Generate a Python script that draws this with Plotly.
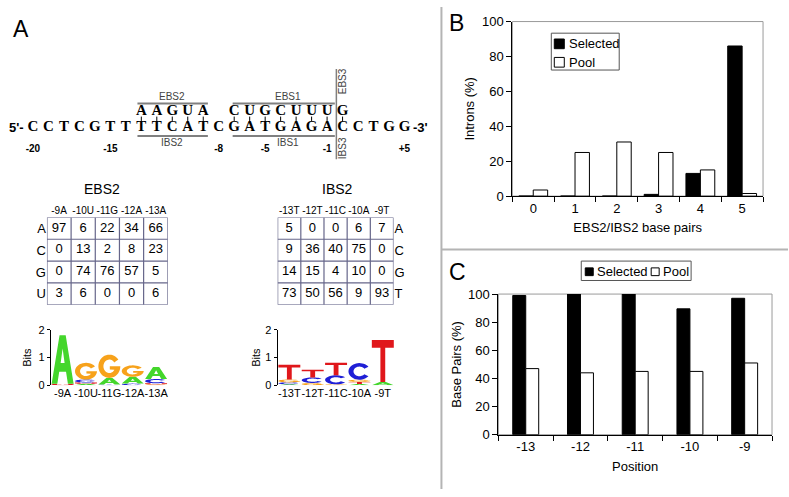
import math
import plotly.graph_objects as go

W, H = 789, 497
FONT = "Liberation Sans, Arial, sans-serif"

# ---------------- data ----------------
b_categories = ["0", "1", "2", "3", "4", "5"]
b_selected = [0, 0, 0, 1, 13, 86]
b_pool = [3.5, 25, 31, 25, 15, 1.5]

c_categories = ["-13", "-12", "-11", "-10", "-9"]
c_selected = [99, 100, 100, 89.5, 97]
c_pool = [47, 44, 45, 45, 51]

pct_ticks = [0, 20, 40, 60, 80, 100]

seq_lower = list("CCTCGTTTTCATCGATGAGACCTGG")      # positions -20 .. -1, +1 .. +5
ebs2_letters = list("AAGUA")                         # pairs with -13 .. -9
ebs1_letters = list("CUGCUUU")                       # pairs with -7 .. -1
ebs3_letters = ["G"]                                 # pairs with +1
ebs2_index = [7, 8, 9, 10, 11]
ebs1_index = [13, 14, 15, 16, 17, 18, 19]
ebs3_index = [20]
seq_number_labels = ["-20", "-15", "-8", "-5", "-1", "+5"]
seq_number_index = [0, 5, 12, 15, 19, 24]

ebs2_cols = ["-9A", "-10U", "-11G", "-12A", "-13A"]
ebs2_rows = ["A", "C", "G", "U"]
ebs2_A = [97, 6, 22, 34, 66]
ebs2_C = [0, 13, 2, 8, 23]
ebs2_G = [0, 74, 76, 57, 5]
ebs2_U = [3, 6, 0, 0, 6]

ibs2_cols = ["-13T", "-12T", "-11C", "-10A", "-9T"]
ibs2_rows = ["A", "C", "G", "T"]
ibs2_A = [5, 0, 0, 6, 7]
ibs2_C = [9, 36, 40, 75, 0]
ibs2_G = [14, 15, 4, 10, 0]
ibs2_T = [73, 50, 56, 9, 93]

# ---------------- helpers ----------------
def xd(a, b):
    return [a / W, b / W]

def yd(top, bottom):
    return [1 - bottom / H, 1 - top / H]

def px_x(a):
    return a / W

def px_y(a):
    return 1 - a / H

fig = go.Figure()
shapes = []
annotations = []

def ann(text, x, y, size, xanchor="center", color="black", bold=False, angle=0,
        family=FONT, xref="paper", yref="paper"):
    if xref == "paper":
        x = px_x(x)
    if yref == "paper":
        y = px_y(y)
    annotations.append(dict(
        text=("<b>%s</b>" % text) if bold else text, x=x, y=y, xref=xref, yref=yref,
        showarrow=False, xanchor=xanchor, yanchor="middle", textangle=angle,
        font=dict(family=family, size=size, color=color)))

def line(x0, y0, x1, y1, xref, yref, color="black", width=1, layer="above"):
    shapes.append(dict(type="line", x0=x0, y0=y0, x1=x1, y1=y1, xref=xref, yref=yref,
                       line=dict(color=color, width=width), layer=layer))

def rect(x0, y0, x1, y1, xref="paper", yref="paper", fill="rgba(0,0,0,0)",
         color="black", width=1, layer="above"):
    if xref == "paper":
        x0, x1 = px_x(x0), px_x(x1)
    if yref == "paper":
        y0, y1 = px_y(y0), px_y(y1)
    shapes.append(dict(type="rect", x0=x0, y0=y0, x1=x1, y1=y1, xref=xref, yref=yref,
                       fillcolor=fill, line=dict(color=color, width=width), layer=layer))

# ---------------- panel B ----------------
fig.add_trace(go.Bar(x=b_categories, y=b_selected, xaxis="x", yaxis="y", name="Selected",
                     width=0.345, offset=-0.345, showlegend=False,
                     marker=dict(color="black", line=dict(color="black", width=1))))
fig.add_trace(go.Bar(x=b_categories, y=b_pool, xaxis="x", yaxis="y", name="Pool",
                     width=0.345, offset=0, showlegend=False,
                     marker=dict(color="white", line=dict(color="black", width=1))))

# ---------------- panel C ----------------
fig.add_trace(go.Bar(x=c_categories, y=c_selected, xaxis="x2", yaxis="y2", name="Selected",
                     width=0.237, offset=-0.237, showlegend=False,
                     marker=dict(color="black", line=dict(color="black", width=1))))
fig.add_trace(go.Bar(x=c_categories, y=c_pool, xaxis="x2", yaxis="y2", name="Pool",
                     width=0.237, offset=0, showlegend=False,
                     marker=dict(color="white", line=dict(color="black", width=1))))

for ax in ["x", "x2"]:
    rect(0, 0, 1, 1, xref=ax + " domain", yref=("y" if ax == "x" else "y2") + " domain",
         color="#9a9a9a", width=1, layer="below")

# manual legends
rect(552, 27, 620, 65, color="#555555")
rect(555, 33, 565, 43, fill="black")
rect(555, 52, 565, 62, fill="white")
ann("Selected", 568, 38, 13, xanchor="left")
ann("Pool", 568, 57, 13, xanchor="left")

rect(582, 262, 692, 282, color="#555555")
rect(586, 269, 594, 277, fill="black")
ann("Selected", 596, 273, 13, xanchor="left")
rect(652, 269, 660, 277, fill="white")
ann("Pool", 662, 273, 13, xanchor="left")

# ---------------- sequence logos ----------------
LOGO_COLORS = {"A": "#44d62c", "C": "#1f1fd6", "G": "#f7a21b", "T": "#e0171b", "U": "#e0171b"}

def arc(cx, cy, rx, ry, a0, a1, n=36):
    pts = []
    for k in range(n + 1):
        t = math.radians(a0 + (a1 - a0) * k / n)
        pts.append((cx + rx * math.cos(t), cy + ry * math.sin(t)))
    return pts

def glyph(letter):
    if letter == "A":
        return [[(0, 0), (0.36, 1), (0.64, 1), (1, 0), (0.74, 0), (0.655, 0.25),
                 (0.345, 0.25), (0.26, 0)],
                [(0.41, 0.43), (0.5, 0.73), (0.59, 0.43)]]
    if letter == "T":
        return [[(0, 1), (1, 1), (1, 0.82), (0.61, 0.82), (0.61, 0), (0.39, 0),
                 (0.39, 0.82), (0, 0.82)]]
    if letter == "C":
        return [arc(0.5, 0.5, 0.5, 0.5, 35, 325) + arc(0.5, 0.5, 0.27, 0.29, 325, 35)]
    if letter == "G":
        return [arc(0.5, 0.5, 0.5, 0.5, 35, 360) + [(0.52, 0.5), (0.52, 0.36)]
                + arc(0.5, 0.5, 0.27, 0.29, 328, 35)]
    # U
    return [[(0, 1), (0, 0.45)] + arc(0.5, 0.45, 0.5, 0.45, 180, 360)
            + [(1, 1), (0.76, 1)] + arc(0.5, 0.45, 0.26, 0.22, 360, 180) + [(0.24, 1)]]

def logo_heights(table, letters):
    # information content per column (as a sequence logo draws it)
    cols = []
    for j in range(len(table[0])):
        counts = [row[j] for row in table]
        tot = float(sum(counts))
        fr = [c / tot for c in counts]
        ent = -sum(f * math.log2(f) for f in fr if f > 0)
        ic = 2 - ent
        cols.append(sorted(((f * ic, letters[i]) for i, f in enumerate(fr)),
                           key=lambda p: p[0]))
    return cols

def draw_logo(table, letters, xr, yr):
    for j, col in enumerate(logo_heights(table, letters)):
        base = 0.0
        for h, let in col:
            if h > 0.01:
                parts = []
                for sub in glyph(let):
                    pts = ["%.4f,%.4f" % (j - 0.47 + 0.94 * u, base + h * v) for u, v in sub]
                    parts.append("M" + " L".join(pts) + " Z")
                shapes.append(dict(type="path", path=" ".join(parts), xref=xr, yref=yr,
                                   fillcolor=LOGO_COLORS[let], fillrule="evenodd",
                                   line=dict(width=0), layer="above"))
            base += h

draw_logo([ebs2_A, ebs2_C, ebs2_G, ebs2_U], ebs2_rows, "x3", "y3")
draw_logo([ibs2_A, ibs2_C, ibs2_G, ibs2_T], ibs2_rows, "x4", "y4")
# invisible anchors so the logo axes render
for xa, ya in [("x3", "y3"), ("x4", "y4")]:
    fig.add_trace(go.Scatter(x=[0, 4], y=[0, 0], xaxis=xa, yaxis=ya, mode="markers",
                             marker=dict(opacity=0), hoverinfo="skip", showlegend=False))

# ---------------- tables ----------------
TABLE_LINE = "#66668a"

def draw_table(table, xr, yr):
    xs, ys, ts = [], [], []
    for i, row in enumerate(table):
        for j, v in enumerate(row):
            xs.append(j)
            ys.append(i)
            ts.append(str(v))
    fig.add_trace(go.Scatter(x=xs, y=ys, text=ts, mode="text", xaxis=xr, yaxis=yr,
                             textfont=dict(family=FONT, size=13, color="black"),
                             hoverinfo="skip", showlegend=False, cliponaxis=False))
    rect(-0.5, -0.5, 4.5, 3.5, xref=xr, yref=yr, color=TABLE_LINE, width=1.2)
    for k in range(1, 5):
        line(k - 0.5, -0.5, k - 0.5, 3.5, xr, yr, color=TABLE_LINE, width=1.2)
    for k in range(1, 4):
        line(-0.5, k - 0.5, 4.5, k - 0.5, xr, yr, color=TABLE_LINE, width=1.2)

draw_table([ebs2_A, ebs2_C, ebs2_G, ebs2_U], "x5", "y5")
draw_table([ibs2_A, ibs2_C, ibs2_G, ibs2_T], "x6", "y6")
ann("EBS2", 102, 188, 14)
ann("IBS2", 338, 188, 14)

# ---------------- sequence diagram ----------------
SEQ_FONT = "Liberation Serif, DejaVu Serif, serif"
fig.add_trace(go.Scatter(x=list(range(len(seq_lower))), y=[124] * len(seq_lower),
                         text=["<b>%s</b>" % s for s in seq_lower], mode="text",
                         xaxis="x7", yaxis="y7",
                         textfont=dict(family=SEQ_FONT, size=15, color="black"),
                         hoverinfo="skip", showlegend=False, cliponaxis=False))
up_idx = ebs2_index + ebs1_index + ebs3_index
up_txt = ebs2_letters + ebs1_letters + ebs3_letters
fig.add_trace(go.Scatter(x=up_idx, y=[107] * len(up_idx), text=["<b>%s</b>" % s for s in up_txt],
                         mode="text", xaxis="x7", yaxis="y7",
                         textfont=dict(family=SEQ_FONT, size=15, color="black"),
                         hoverinfo="skip", showlegend=False, cliponaxis=False))
fig.add_trace(go.Scatter(x=seq_number_index, y=[147] * len(seq_number_index),
                         text=["<b>%s</b>" % t for t in seq_number_labels], mode="text",
                         xaxis="x7", yaxis="y7",
                         textfont=dict(family=FONT, size=10, color="black"),
                         hoverinfo="skip", showlegend=False, cliponaxis=False))
ann("5'-", -0.45, 124, 13, xanchor="right", bold=True, xref="x7", yref="y7")
ann("-3'", 24.45, 124, 13, xanchor="left", bold=True, xref="x7", yref="y7")
for i in up_idx:
    line(i, 113, i, 117.5, "x7", "y7", color="black", width=1)
GRAY = "#808080"
for (a, b) in [(6.75, 11.3), (12.9, 19.5)]:
    line(a, 99.5, b, 99.5, "x7", "y7", color=GRAY, width=2)
    line(a, 133, b, 133, "x7", "y7", color=GRAY, width=2)
line(19.6, 64, 19.6, 157, "x7", "y7", color=GRAY, width=1.5)
ann("EBS2", 9, 92, 10, color="#444444", xref="x7", yref="y7")
ann("EBS1", 16.5, 92, 10, color="#444444", xref="x7", yref="y7")
ann("IBS2", 9, 140, 10, color="#444444", xref="x7", yref="y7")
ann("IBS1", 16.5, 140, 10, color="#444444", xref="x7", yref="y7")
ann("EBS3", 20, 77, 10, color="#444444", angle=-90, xref="x7", yref="y7")
ann("IBS3", 20, 146, 10, color="#444444", angle=-90, xref="x7", yref="y7")

# ---------------- panel labels & dividers ----------------
ann("A", 21, 23, 23)
ann("B", 457, 17, 23)
ann("C", 458, 273, 23)
line(px_x(442), 0, px_x(442), 1, "paper", "paper", color="#b4b4b4", width=2)
line(px_x(442), px_y(250), 1, px_y(250), "paper", "paper", color="#b4b4b4", width=2)

# ---------------- axes ----------------
tick_font = dict(family=FONT, size=13, color="black")
common_bar_x = dict(type="category", tickson="boundaries", ticks="outside", ticklen=5,
                    tickcolor="black", showline=True, linecolor="black", linewidth=1,
                    showgrid=False, zeroline=False, tickfont=tick_font)
common_bar_y = dict(range=[0, 100], tickvals=pct_ticks, ticks="outside", ticklen=5,
                    tickcolor="black", showline=True, linecolor="black", linewidth=1,
                    showgrid=False, zeroline=False, tickfont=tick_font)

seq_r0 = -33 / 15.5
seq_r1 = seq_r0 + 442 / 15.5

logo_x = dict(range=[-0.5, 4.5], tickvals=[0, 1, 2, 3, 4], showline=False, ticks="",
              tickangle=0, showgrid=False, zeroline=False,
              tickfont=dict(family=FONT, size=11, color="black"))
logo_y = dict(range=[0, 2], tickvals=[0, 1, 2], showline=True, linecolor="black", linewidth=1,
              ticks="outside", ticklen=3, tickcolor="black", showgrid=False, zeroline=False,
              tickfont=dict(family=FONT, size=11, color="black"))

tab_x = dict(range=[-0.5, 4.5], tickvals=[0, 1, 2, 3, 4], side="top", showline=False, ticks="",
             tickangle=0, showgrid=False, zeroline=False,
             tickfont=dict(family=FONT, size=10, color="black"))
tab_y = dict(range=[3.5, -0.5], tickvals=[0, 1, 2, 3], showline=False, ticks="",
             showgrid=False, zeroline=False, tickfont=dict(family=FONT, size=13, color="black"))

fig.update_layout(
    width=W, height=H, margin=dict(l=0, r=0, t=0, b=0), autosize=False,
    paper_bgcolor="white", plot_bgcolor="rgba(0,0,0,0)", barmode="overlay",
    font=dict(family=FONT, color="black"), showlegend=False,
    xaxis=dict(domain=xd(513, 764), anchor="y", range=[-0.5, 5.5],
               categoryorder="array", categoryarray=b_categories,
               title=dict(text="EBS2/IBS2 base pairs", font=tick_font, standoff=8),
               **common_bar_x),
    yaxis=dict(domain=yd(15, 195), anchor="x",
               title=dict(text="Introns (%)", font=tick_font, standoff=4), **common_bar_y),
    xaxis2=dict(domain=xd(499, 773), anchor="y2", range=[-0.5, 4.5],
                categoryorder="array", categoryarray=c_categories,
                title=dict(text="Position", font=tick_font, standoff=8), **common_bar_x),
    yaxis2=dict(domain=yd(296, 441), anchor="x2",
                title=dict(text="Base Pairs (%)", font=tick_font, standoff=3), **common_bar_y),
    xaxis3=dict(domain=xd(51, 168), anchor="y3", ticktext=ebs2_cols, **logo_x),
    yaxis3=dict(domain=yd(333, 390), anchor="x3",
                title=dict(text="Bits", font=dict(family=FONT, size=11), standoff=4), **logo_y),
    xaxis4=dict(domain=xd(278, 395), anchor="y4", ticktext=ibs2_cols, **logo_x),
    yaxis4=dict(domain=yd(333, 390), anchor="x4",
                title=dict(text="Bits", font=dict(family=FONT, size=11), standoff=2), **logo_y),
    xaxis5=dict(domain=xd(47, 168), anchor="y5", ticktext=ebs2_cols, **tab_x),
    yaxis5=dict(domain=yd(217, 307), anchor="x5", ticktext=ebs2_rows, side="left", **tab_y),
    xaxis6=dict(domain=xd(278, 394), anchor="y6", ticktext=ibs2_cols, **tab_x),
    yaxis6=dict(domain=yd(217, 307), anchor="x6", ticktext=ibs2_rows, side="right", **tab_y),
    xaxis7=dict(domain=xd(0, 442), anchor="y7", range=[seq_r0, seq_r1], visible=False),
    yaxis7=dict(domain=yd(50, 165), anchor="x7", range=[165, 50], visible=False),
    shapes=shapes, annotations=annotations,
)

fig.write_html("out.html", config={"staticPlot": True},
               post_script="document.body.style.margin='0';document.body.style.overflow='hidden';")
